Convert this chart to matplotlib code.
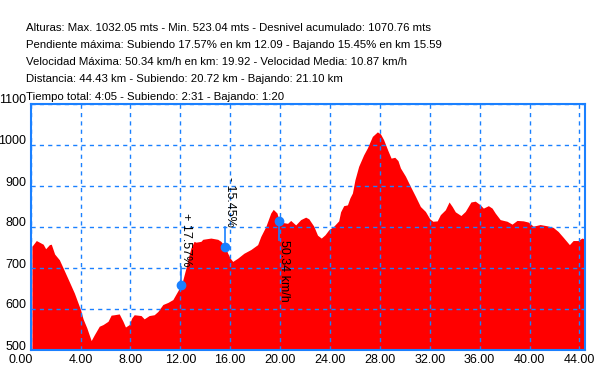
import matplotlib
matplotlib.use("Agg")
import matplotlib.pyplot as plt
import matplotlib.transforms as mtransforms

# ---- data ----
km = [0.1, 0.45, 1.0, 1.2, 1.5, 1.65, 1.92, 2.3, 2.6, 3.0, 3.5, 4.0, 4.2, 4.5, 4.85, 5.1, 5.5, 5.8, 6.2, 6.45,
      6.7, 7.1, 7.4, 7.6, 7.9, 8.1, 8.3, 8.85, 9.1, 9.5, 9.9, 10.2, 10.6, 11.0, 11.4, 11.7, 12.0, 12.09, 12.45, 12.6,
      12.85, 13.1, 13.25, 13.65, 13.8, 14.45, 15.0, 15.25, 15.59, 15.8, 16.0, 16.2, 16.6, 17.1, 17.65, 18.2, 18.45,
      18.85, 19.25, 19.45, 19.75, 19.92, 20.2, 20.6, 20.85, 21.25, 21.65, 22.05, 22.3, 22.7, 23.0, 23.3, 23.6, 23.9,
      24.3, 24.7, 24.85, 25.1, 25.4, 25.6, 25.8, 26.0, 26.3, 26.7, 27.0, 27.4, 27.8, 28.05, 28.3, 28.65, 28.9, 29.2,
      29.45, 29.65, 30.05, 30.45, 30.85, 31.25, 31.65, 32.0, 32.25, 32.6, 32.85, 33.25, 33.55, 33.8, 34.05, 34.5,
      34.85, 35.3, 35.65, 36.05, 36.3, 36.7, 37.0, 37.25, 37.65, 38.2, 38.6, 39.0, 39.5, 39.9, 40.3, 40.85, 41.4,
      41.9, 42.3, 42.7, 43.2, 43.5, 43.9, 44.2, 44.43]
elev = [753, 767, 758, 747, 757, 758, 734, 720, 700, 673, 639, 598, 576, 554, 523, 537, 558, 562, 570, 585,
        586, 588, 570, 556, 562, 578, 586, 584, 576, 584, 586, 594, 611, 616, 623, 639, 655, 658, 700, 720,
        749, 765, 763, 765, 770, 773, 770, 765, 752, 736, 724, 716, 724, 736, 745, 757, 777,
        801, 834, 843, 834, 815, 811, 809, 816, 805, 818, 824, 820, 802, 780, 773, 781, 793,
        802, 815, 837, 852, 854, 871, 883, 915, 948, 976, 993, 1021, 1032, 1027, 1013, 986, 968, 970,
        962, 944, 924, 899, 875, 850, 838, 820, 814, 815, 830, 842, 861, 850, 837, 828,
        838, 861, 863, 854, 846, 852, 846, 834, 818, 814, 807, 816, 815, 812, 802, 806, 803,
        799, 789, 775, 757, 767, 767, 773, 771]

marker_km = [12.09, 15.59, 19.92]
marker_elev = [658, 752, 815]
marker_text = ["+ 17.57%", "- 15.45%", "50.34 km/h"]
marker_line_end = [703, 801, 768]

x_ticks = [0, 4, 8, 12, 16, 20, 24, 28, 32, 36, 40, 44]
x_ticklabels = ["0.00", "4.00", "8.00", "12.00", "16.00", "20.00", "24.00", "28.00", "32.00", "36.00", "40.00", "44.00"]
y_ticks = [500, 600, 700, 800, 900, 1000, 1100]

header = [
    "Alturas: Max. 1032.05 mts - Min. 523.04 mts - Desnivel acumulado: 1070.76 mts",
    "Pendiente máxima: Subiendo 17.57% en km 12.09 - Bajando 15.45% en km 15.59",
    "Velocidad Máxima: 50.34 km/h en km: 19.92 - Velocidad Media: 10.87 km/h",
    "Distancia: 44.43 km - Subiendo: 20.72 km - Bajando: 21.10 km",
    "Tiempo total: 4:05 - Subiendo: 2:31 - Bajando: 1:20",
]

# ---- figure ----
plt.rcParams['font.family'] = ['Liberation Sans', 'DejaVu Sans']
W, H = 600, 368
fig = plt.figure(figsize=(W / 100, H / 100), dpi=100)
ax = fig.add_axes([30.7 / W, 1 - 350 / H, (585 - 30.7) / W, (350 - 104) / H])

BLUE = '#1a80ff'
ax.fill_between(km, elev, 500, color='#ff0000', linewidth=0, zorder=1)
ax.set_xlim(0.1, 44.45)
ax.set_ylim(500, 1100)

ax.set_xticks(x_ticks)
ax.set_xticklabels(x_ticklabels)
ax.set_yticks(y_ticks)
ax.tick_params(length=0, labelsize=9, pad=3)
ax.grid(True, color=BLUE, linestyle=(0, (3, 3)), linewidth=1, zorder=2)
ax.set_axisbelow(False)
for s in ax.spines.values():
    s.set_color(BLUE)
    s.set_linewidth(1.5)

# shift y tick labels up a little
off = mtransforms.ScaledTranslation(0, 5 / 100, fig.dpi_scale_trans)
for lbl in ax.get_yticklabels():
    lbl.set_transform(lbl.get_transform() + off)
xl = ax.get_xticklabels()
xl[0].set_horizontalalignment('right')
xl[0].set_transform(xl[0].get_transform() + mtransforms.ScaledTranslation(2 / 100, 0, fig.dpi_scale_trans))

# markers
for i in range(3):
    ax.plot([marker_km[i], marker_km[i]], [marker_elev[i], marker_line_end[i]], color=BLUE, lw=1.2, zorder=4)
    ax.plot(marker_km[i], marker_elev[i], 'o', color=BLUE, ms=6, zorder=5)
    va = 'bottom' if marker_line_end[i] > marker_elev[i] else 'top'
    ax.annotate(marker_text[i], (marker_km[i], marker_line_end[i]), xytext=(3.5, 0),
                textcoords='offset points', rotation=-90, ha='center', va=va, fontsize=9,
                color='black', zorder=6)

baselines = [30.7, 47.9, 65.1, 82.3, 99.5]
for t, b in zip(header, baselines):
    fig.text(26 / W, 1 - b / H, t, fontsize=8.2, va='baseline', ha='left')

fig.savefig('out.png', dpi=100)
